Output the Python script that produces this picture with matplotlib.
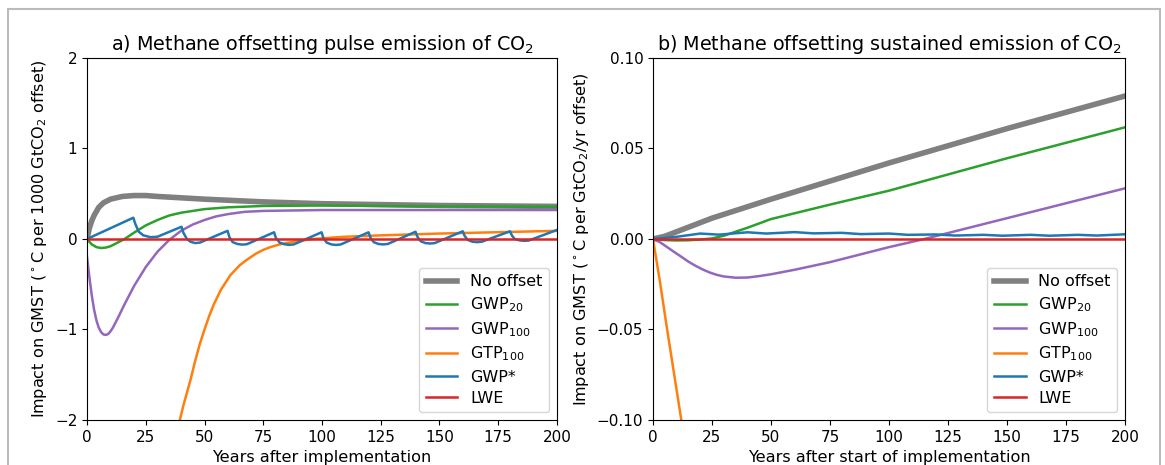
import numpy as np
import matplotlib.pyplot as plt
from matplotlib.patches import Rectangle

# ---- panel a) pulse emission of CO2 ----
a_noff_t = [0, 1, 2, 3, 5, 7, 10, 15, 20, 25, 30, 40, 50, 75, 100, 125, 150, 175, 200]
a_noff_v = [0, 0.12, 0.2, 0.26, 0.35, 0.4, 0.44, 0.47, 0.48, 0.48, 0.47, 0.455, 0.44, 0.41, 0.39, 0.38, 0.37, 0.365, 0.36]

a_gwp20_t = [0, 2, 4, 6, 8, 10, 13, 16, 20, 25, 30, 35, 40, 50, 60, 75, 100, 150, 200]
a_gwp20_v = [0, -0.06, -0.09, -0.1, -0.095, -0.08, -0.04, 0.0, 0.07, 0.15, 0.21, 0.26, 0.29, 0.33, 0.35, 0.365, 0.37, 0.36, 0.355]

a_gwp100_t = [0, 1, 2, 3, 4, 5, 6, 7, 8, 9, 10, 11, 13, 16, 20, 25, 30, 35, 40, 45, 50, 55, 60, 67, 75, 100, 150, 200]
a_gwp100_v = [-0.2, -0.42, -0.62, -0.78, -0.9, -0.98, -1.03, -1.055, -1.06, -1.05, -1.02, -0.98, -0.88, -0.72, -0.52, -0.31, -0.14, -0.01, 0.09, 0.16, 0.21, 0.25, 0.275, 0.3, 0.31, 0.32, 0.32, 0.32]

a_gtp100_t = [20, 30, 35, 39.5, 41, 42.5, 44, 46, 48, 50, 52, 54, 57, 61, 65, 68, 72, 75, 78, 82, 88, 96, 110, 125, 150, 175, 200]
a_gtp100_v = [-7, -4.1, -2.9, -2.0, -1.84, -1.7, -1.56, -1.35, -1.16, -1.0, -0.85, -0.72, -0.56, -0.4, -0.29, -0.23, -0.16, -0.12, -0.09, -0.06, -0.03, 0.0, 0.025, 0.04, 0.06, 0.075, 0.09]

a_gwpstar_t = [0, 19.7, 20.5, 22, 24, 27, 30,
               40.2, 41, 42.5, 44, 46, 48,
               59.8, 60.6, 62, 64, 66, 68,
               79.6, 80.4, 82, 84, 86, 88,
               99.8, 100.6, 102, 104, 106, 108,
               119.8, 120.6, 122, 124, 126, 128,
               139.8, 140.6, 142, 144, 146, 148,
               159.9, 160.7, 162, 164, 166, 168,
               180, 180.8, 182, 184, 186, 188, 200]
a_gwpstar_v = [0, 0.235, 0.17, 0.08, 0.04, 0.02, 0.025,
               0.135, 0.07, 0.0, -0.03, -0.045, -0.04,
               0.09, 0.02, -0.035, -0.055, -0.062, -0.058,
               0.074, 0.01, -0.04, -0.058, -0.065, -0.06,
               0.074, 0.01, -0.04, -0.06, -0.066, -0.06,
               0.074, 0.015, -0.035, -0.055, -0.06, -0.055,
               0.08, 0.025, -0.025, -0.045, -0.05, -0.045,
               0.085, 0.035, -0.01, -0.03, -0.035, -0.03,
               0.085, 0.04, 0.0, -0.015, -0.02, -0.017, 0.1]

# ---- panel b) sustained emission of CO2 ----
b_noff_t = [0, 5, 10, 15, 25, 50, 75, 100, 150, 200]
b_noff_v = [0, 0.0015, 0.004, 0.0065, 0.0115, 0.022, 0.032, 0.042, 0.061, 0.079]

b_gwp20_t = [0, 5, 10, 15, 20, 25, 30, 35, 40, 50, 75, 100, 150, 200]
b_gwp20_v = [0, -0.0006, -0.0008, -0.0007, -0.0003, 0.0003, 0.0018, 0.004, 0.0062, 0.011, 0.019, 0.0267, 0.0446, 0.0617]

b_gwp100_t = [0, 3, 6, 9, 12, 15, 18, 21, 24, 27, 30, 35, 40, 45, 50, 60, 75, 100, 115, 150, 200]
b_gwp100_v = [0, -0.0018, -0.0045, -0.0072, -0.0098, -0.0125, -0.0148, -0.0168, -0.0185, -0.0198, -0.0207, -0.0214, -0.0213, -0.0205, -0.0195, -0.017, -0.0128, -0.0045, 0.0, 0.0115, 0.028]

b_gtp100_t = [0, 3, 6, 9, 12, 15, 20]
b_gtp100_v = [0, -0.024, -0.05, -0.075, -0.1, -0.125, -0.166]

b_gwpstar_t = [0, 10, 20, 28, 40, 48, 60, 68, 80, 88, 100, 108, 120, 128, 140, 148, 160, 168, 180, 188, 200]
b_gwpstar_v = [0, 0.0012, 0.003, 0.0024, 0.0037, 0.003, 0.0038, 0.0031, 0.0034, 0.0027, 0.003, 0.0023, 0.0025, 0.0019, 0.0023, 0.0018, 0.0023, 0.0018, 0.0023, 0.0019, 0.0026]

lwe_t = [0, 200]
lwe_v = [0, 0]

labels = ['No offset', 'GWP$_{20}$', 'GWP$_{100}$', 'GTP$_{100}$', 'GWP*', 'LWE']
colors = ['grey', 'tab:green', 'tab:purple', 'tab:orange', 'tab:blue', 'tab:red']

fig = plt.figure(figsize=(11.65, 4.65), dpi=100)
ax1 = fig.add_axes([0.0747, 0.0968, 0.4034, 0.7785])
ax2 = fig.add_axes([0.5605, 0.0968, 0.4052, 0.7785])

series_a = [(a_noff_t, a_noff_v), (a_gwp20_t, a_gwp20_v), (a_gwp100_t, a_gwp100_v),
            (a_gtp100_t, a_gtp100_v), (a_gwpstar_t, a_gwpstar_v), (lwe_t, lwe_v)]
series_b = [(b_noff_t, b_noff_v), (b_gwp20_t, b_gwp20_v), (b_gwp100_t, b_gwp100_v),
            (b_gtp100_t, b_gtp100_v), (b_gwpstar_t, b_gwpstar_v), (lwe_t, lwe_v)]

for ax, series in [(ax1, series_a), (ax2, series_b)]:
    for (t, v), lab, c in zip(series, labels, colors):
        lw = 4 if lab == 'No offset' else 1.8
        ax.plot(t, v, color=c, lw=lw, label=lab)
    ax.set_xlim(0, 200)
    ax.set_xticks([0, 25, 50, 75, 100, 125, 150, 175, 200])
    ax.tick_params(labelsize=11)
    ax.legend(loc='lower right', fontsize=11.5, labelspacing=0.38)

ax1.set_ylim(-2, 2)
ax1.set_yticks([-2, -1, 0, 1, 2])
ax2.set_ylim(-0.1, 0.1)
ax2.set_yticks([-0.1, -0.05, 0, 0.05, 0.1])
ax2.set_yticklabels(['\u22120.10', '\u22120.05', '0.00', '0.05', '0.10'])

ax1.set_title('a) Methane offsetting pulse emission of CO$_2$', fontsize=13.8)
ax2.set_title('b) Methane offsetting sustained emission of CO$_2$', fontsize=13.8)
ax1.set_xlabel('Years after implementation', fontsize=11.6)
ax2.set_xlabel('Years after start of implementation', fontsize=11.6)
ax1.set_ylabel('Impact on GMST ($^\\circ$C per 1000 GtCO$_2$ offset)', fontsize=11.6)
ax2.set_ylabel('Impact on GMST ($^\\circ$C per GtCO$_2$/yr offset)', fontsize=11.6)

# grey frame around the figure
fig.patches.append(Rectangle((8 / 1165, -0.1), 1152 / 1165, (456 / 465) + 0.1,
                             transform=fig.transFigure, fill=False,
                             edgecolor='#bbbbbb', lw=1.5))

fig.savefig('out.png', dpi=100)
